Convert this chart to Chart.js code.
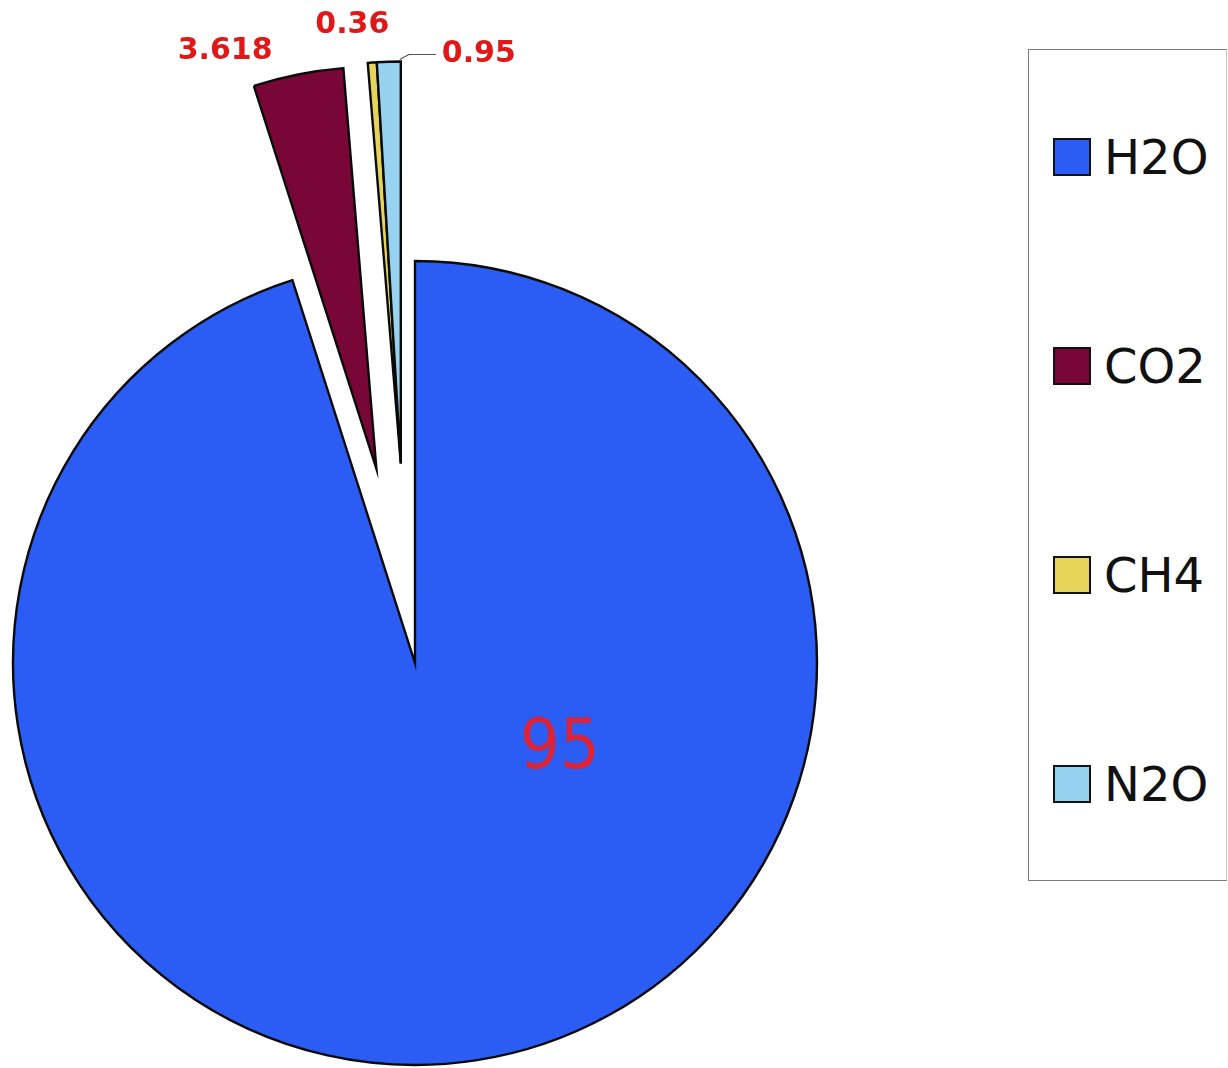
<!DOCTYPE html>
<html>
<head>
<meta charset="utf-8">
<script src="https://cdn.jsdelivr.net/npm/chart.js@4/dist/chart.umd.min.js"></script>
<style>
  html, body { margin: 0; padding: 0; background: #ffffff; overflow: hidden; }
  #wrap { position: relative; width: 1228px; height: 1068px; }
  #chart { position: absolute; left: 0; top: 0; }
  #legend {
    position: absolute; left: 1028px; top: 49px; width: 199px; height: 832px;
    border: 1.5px solid #7a7a7a; border-right-color: #c8c8c8; box-sizing: border-box; background: #ffffff;
    font-family: "DejaVu Sans", Verdana, sans-serif;
  }
  .item { position: absolute; left: 24px; height: 50px; display: flex; align-items: center; white-space: nowrap; }
  .sw { width: 34px; height: 34px; border: 2px solid #111; box-sizing: content-box; margin-right: 13px; }
  .lab { font-size: 48px; color: #111; line-height: 50px; }
</style>
</head>
<body>
<div id="wrap">
  <canvas id="chart" width="1228" height="1068"></canvas>
  <div id="legend"></div>
</div>
<script>
// ---- data ----
const labels = ["H2O", "CO2", "CH4", "N2O"];
const values = [95, 3.618, 0.36, 0.95];
const valueLabels = ["95", "3.618", "0.36", "0.95"];
const colors = ["#2b5cf3", "#780636", "#e6d35a", "#97d3f0"];
const explode = [0, 198, 200, 200];
// slices exploded together share the direction of the group's first slice
const explodeGroup = [null, "a", "b", "b"];

// ---- legend (HTML, built from the arrays) ----
const legendEl = document.getElementById('legend');
const legendTops = [82, 291, 500, 709];
labels.forEach((l, i) => {
  const d = document.createElement('div');
  d.className = 'item';
  d.style.top = legendTops[i] + 'px';
  d.innerHTML = '<div class="sw" style="background:' + colors[i] + '"></div><div class="lab">' + l + '</div>';
  legendEl.appendChild(d);
});

const R = 402;

// explode slices: move arc elements outward
const explodePlugin = {
  id: 'explode',
  afterDatasetUpdate(chart, args) {
    const dirs = {};
    args.meta.data.forEach((el, i) => {
      const d = explode[i] || 0;
      if (!d) return;
      const g = explodeGroup[i];
      if (!(g in dirs)) dirs[g] = (el.startAngle + el.endAngle) / 2;
      const h = dirs[g];
      el.x += Math.cos(h) * d;
      el.y += Math.sin(h) * d;
    });
  }
};

// value labels
const bold = 'bold 30px "DejaVu Sans", Verdana, sans-serif';
const labelPos = [
  { mode: 'in', ang: 31, rf: 0.42, font: '70px "DejaVu Sans Condensed", "DejaVu Sans", sans-serif', color: '#d8243a' },
  { mode: 'out', dx: -73, dy: -23, font: bold, color: '#e01818' },
  { mode: 'out', dx: -20, dy: -37, font: bold, color: '#e01818' },
  { mode: 'out', dx: 90, dy: -7, font: bold, color: '#e01818', leader: true }
];
const valueLabelPlugin = {
  id: 'valueLabels',
  afterDatasetsDraw(chart) {
    const ctx = chart.ctx;
    const meta = chart.getDatasetMeta(0);
    meta.data.forEach((el, i) => {
      const p = labelPos[i];
      const h = (el.startAngle + el.endAngle) / 2;
      const r = el.outerRadius;
      let x, y;
      if (p.mode === 'in') {
        const a = p.ang * Math.PI / 180;
        x = el.x + Math.cos(a) * r * p.rf;
        y = el.y + Math.sin(a) * r * p.rf;
      } else {
        x = el.x + Math.cos(h) * r + p.dx;
        y = el.y + Math.sin(h) * r + p.dy;
      }
      ctx.save();
      ctx.font = p.font;
      if (p.leader) {
        const ex = el.x + Math.cos(el.endAngle) * r;
        const ey = el.y + Math.sin(el.endAngle) * r;
        const w = ctx.measureText(valueLabels[i]).width;
        ctx.strokeStyle = '#555';
        ctx.lineWidth = 1.2;
        ctx.beginPath();
        ctx.moveTo(ex - 1, ey - 2);
        ctx.lineTo(ex + 8, ey - 7);
        ctx.lineTo(x - w / 2 - 6, ey - 7);
        ctx.stroke();
      }
      ctx.fillStyle = p.color;
      ctx.textAlign = 'center';
      ctx.textBaseline = 'middle';
      ctx.fillText(valueLabels[i], x, y);
      ctx.restore();
    });
  }
};

new Chart(document.getElementById('chart'), {
  type: 'pie',
  data: {
    labels: labels,
    datasets: [{
      data: values,
      backgroundColor: colors,
      borderColor: '#0a0a0a',
      borderWidth: 2.4,
      borderJoinStyle: 'miter',
      hoverOffset: 0,
      clip: false
    }]
  },
  options: {
    responsive: false,
    animation: false,
    radius: R,
    rotation: 0,
    layout: { padding: { left: 13, right: 411, top: 261, bottom: 3 } },
    plugins: {
      legend: { display: false },
      tooltip: { enabled: false }
    },
    events: []
  },
  plugins: [explodePlugin, valueLabelPlugin]
});
</script>
</body>
</html>
